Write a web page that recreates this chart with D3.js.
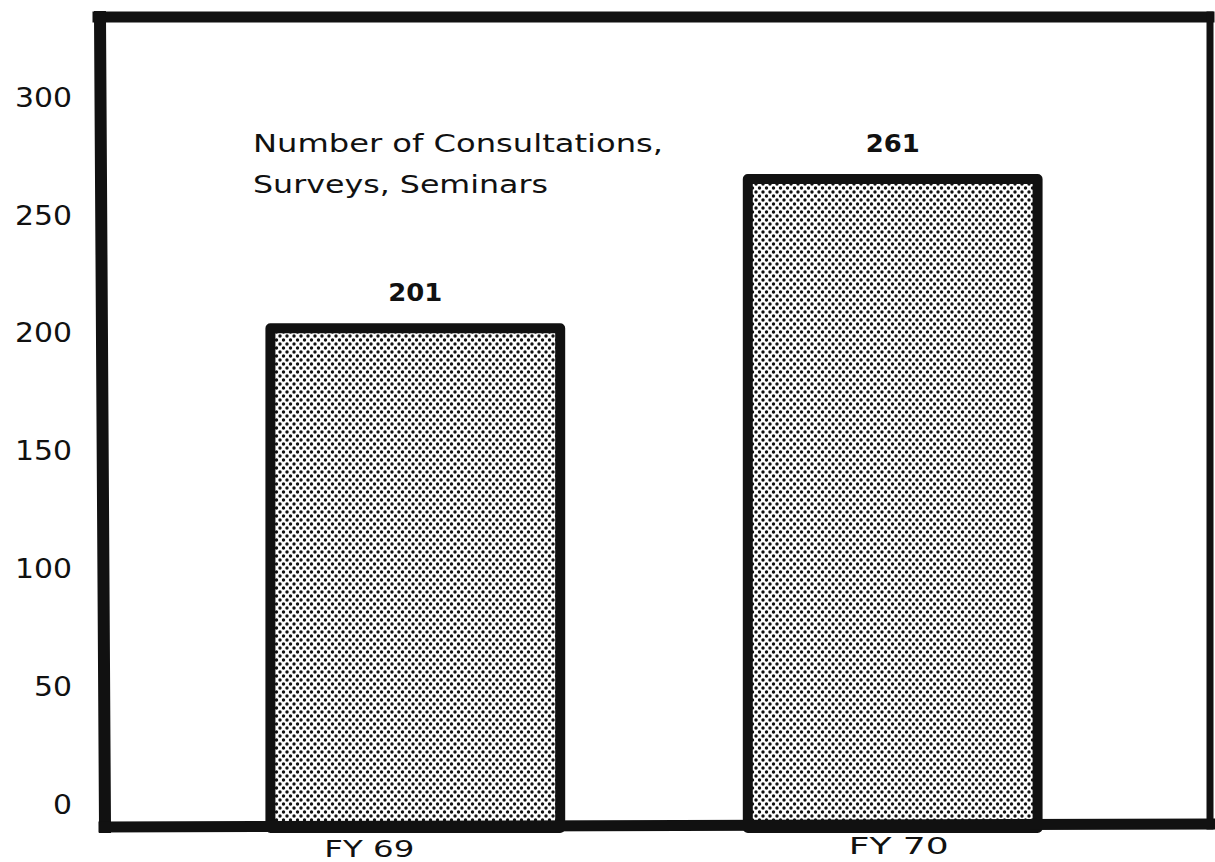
<!DOCTYPE html>
<html>
<head>
<meta charset="utf-8">
<script src="https://cdn.jsdelivr.net/npm/d3@7"></script>
<style>
  html, body { margin: 0; padding: 0; background: #fff; }
  svg { display: block; }
  text { font-family: "DejaVu Sans", sans-serif; fill: #111; }
</style>
</head>
<body>
<svg id="chart" width="1215" height="862"></svg>
<script>
// ---- data ----
const categories = ["FY 69", "FY 70"];
const values = [201, 261];
const valueLabels = ["201", "261"];
const tickValues = [0, 50, 100, 150, 200, 250, 300];
const titleLines = ["Number of Consultations,", "Surveys, Seminars"];

const svg = d3.select("#chart");
const ink = "#111";

// dot-screen fill pattern
const defs = svg.append("defs");
const pat = defs.append("pattern")
  .attr("id", "dots").attr("patternUnits", "userSpaceOnUse")
  .attr("width", 7).attr("height", 8);
pat.append("rect").attr("width", 7).attr("height", 8).attr("fill", "#fff");
[[0, 0], [7, 0], [0, 8], [7, 8], [3.5, 4]].forEach(([cx, cy]) =>
  pat.append("circle").attr("cx", cx).attr("cy", cy).attr("r", 1.7).attr("fill", ink));

// scales
const x = d3.scaleBand().domain(categories)
  .range([100, 1208]).paddingInner(0.393).paddingOuter(0.357);
const yBar = d3.scaleLinear().domain([0, 333]).range([828, 0]);
const yTick = d3.scaleLinear().domain([0, 300]).range([805, 98]);

// bars
svg.selectAll("rect.bar").data(values).join("rect")
  .attr("class", "bar")
  .attr("x", (d, i) => x(categories[i]))
  .attr("y", d => yBar(d))
  .attr("width", x.bandwidth())
  .attr("height", d => yBar(0) - yBar(d))
  .attr("fill", "url(#dots)")
  .attr("stroke", ink).attr("stroke-width", 10)
  .attr("stroke-linejoin", "round");

// frame
const frame = svg.append("g").attr("stroke", ink).attr("stroke-linecap", "square");
frame.append("line").attr("x1", 98).attr("y1", 17).attr("x2", 1209).attr("y2", 17).attr("stroke-width", 11);
frame.append("line").attr("x1", 1210).attr("y1", 15).attr("x2", 1210).attr("y2", 826).attr("stroke-width", 7);
frame.append("line").attr("x1", 100).attr("y1", 17).attr("x2", 105).attr("y2", 827).attr("stroke-width", 12);
frame.append("line").attr("x1", 104).attr("y1", 827).attr("x2", 1215).attr("y2", 824).attr("stroke-width", 11);

// y tick labels
const yAxis = svg.append("g").attr("transform", "translate(102,0)")
  .call(d3.axisLeft(yTick).tickValues(tickValues).tickSize(0).tickPadding(30).tickFormat(d3.format("d")));
yAxis.select(".domain").remove();
yAxis.selectAll("text")
  .attr("font-family", "DejaVu Sans").attr("font-size", 26).attr("fill", ink)
  .attr("textLength", function(d) { return String(d).length * 19; })
  .attr("lengthAdjust", "spacingAndGlyphs");

// value labels
svg.selectAll("text.val").data(values).join("text")
  .attr("class", "val")
  .attr("x", (d, i) => x(categories[i]) + x.bandwidth() / 2)
  .attr("y", d => yBar(d) - 27)
  .attr("text-anchor", "middle")
  .attr("font-size", 24).attr("font-weight", "bold")
  .attr("textLength", 54).attr("lengthAdjust", "spacingAndGlyphs")
  .text((d, i) => valueLabels[i]);

// category labels
const catShift = [-46, 6];
svg.selectAll("text.cat").data(categories).join("text")
  .attr("class", "cat")
  .attr("x", (d, i) => x(d) + x.bandwidth() / 2 + catShift[i])
  .attr("y", (d, i) => 857 - i * 3)
  .attr("text-anchor", "middle")
  .attr("font-size", 23)
  .attr("textLength", (d, i) => i === 0 ? 90 : 100).attr("lengthAdjust", "spacingAndGlyphs")
  .text(d => d);

// annotation
svg.selectAll("text.title").data(titleLines).join("text")
  .attr("class", "title")
  .attr("x", 253).attr("y", (d, i) => 152 + i * 41)
  .attr("font-size", 25)
  .attr("textLength", (d, i) => i === 0 ? 410 : 295).attr("lengthAdjust", "spacingAndGlyphs")
  .text(d => d);
</script>
</body>
</html>
